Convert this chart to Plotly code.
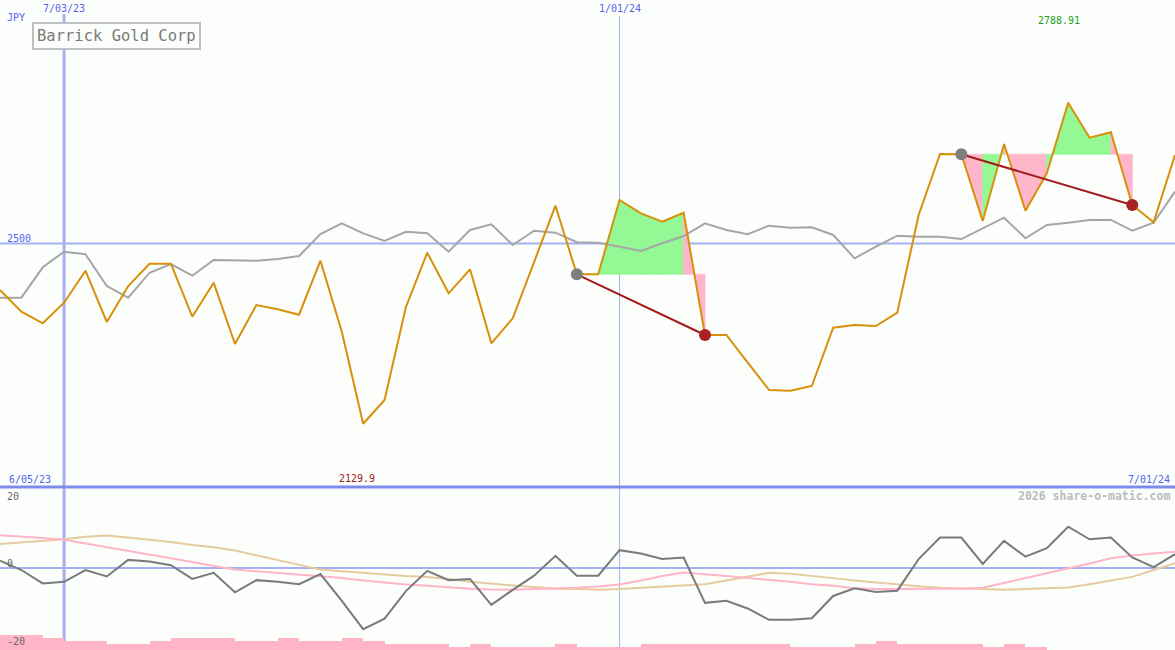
import pandas as pd
import plotly.graph_objects as go

# ---------------- data ----------------
dates = pd.date_range("2023-06-12", "2024-07-01", freq="7D")

price = [2404.5, 2360.0, 2336.1, 2378.4, 2444.1, 2338.8, 2412.7, 2458.5, 2458.5, 2349.7,
         2419.5, 2293.6, 2373.7, 2364.9, 2353.8, 2464.7, 2318.9, 2129.9, 2178.6, 2369.6,
         2481.1, 2397.7, 2447.0, 2295.1, 2346.4, 2462.0, 2577.6, 2436.8, 2436.8, 2589.3,
         2562.0, 2544.8, 2563.2, 2312.1, 2312.1, 2255.6, 2199.2, 2197.7, 2207.4, 2327.1,
         2332.6, 2330.6, 2357.9, 2558.5, 2683.8, 2683.2, 2546.2, 2704.3, 2567.4, 2644.1,
         2788.91, 2717.3, 2728.3, 2579.1, 2543.5, 2681.7]

index_line = [2388.7, 2388.7, 2451.1, 2483.2, 2477.8, 2412.7, 2388.7, 2440.0, 2457.9, 2433.9,
              2466.1, 2464.7, 2464.7, 2468.2, 2474.3, 2519.5, 2541.5, 2520.9, 2505.1, 2524.2,
              2520.9, 2483.2, 2527.7, 2539.4, 2496.9, 2526.3, 2522.2, 2502.5, 2501.6, 2493.4,
              2484.6, 2500.4, 2515.4, 2541.5, 2527.7, 2518.9, 2536.6, 2532.4, 2533.3, 2517.5,
              2469.6, 2493.4, 2516.0, 2514.0, 2514.0, 2509.2, 2531.2, 2553.0, 2510.7, 2538.0,
              2542.7, 2548.3, 2548.3, 2526.3, 2542.7, 2606.4]

osc_gray = [1.8, -0.5, -3.8, -3.4, -0.5, -2.1, 2.0, 1.6, 0.7, -2.7,
            -1.2, -6.0, -3.0, -3.4, -4.0, -1.5, -8.1, -15.1, -12.5, -5.7,
            -0.7, -3.0, -2.7, -9.1, -5.4, -1.9, 3.0, -1.9, -1.9, 4.4,
            3.6, 2.2, 2.6, -8.6, -8.1, -10.0, -12.8, -12.8, -12.4, -6.9,
            -5.0, -5.9, -5.6, 2.2, 7.5, 7.5, 1.0, 6.7, 2.8, 4.9,
            10.2, 7.1, 7.5, 2.6, 0.2, 3.4]

osc_pink = [8.1, 7.8, 7.4, 7.0, 6.1, 5.2, 4.2, 3.3, 2.4, 1.5,
            0.5, -0.4, -0.8, -1.2, -1.6, -2.0, -2.5, -3.1, -3.6, -4.1,
            -4.4, -4.8, -5.1, -5.3, -5.4, -5.2, -5.1, -4.9, -4.6, -4.1,
            -3.1, -2.0, -1.1, -1.5, -2.0, -2.5, -2.9, -3.4, -4.0, -4.4,
            -5.0, -5.2, -5.2, -5.1, -5.1, -5.1, -4.9, -3.7, -2.5, -1.4,
            -0.1, 1.1, 2.4, 3.1, 3.6, 4.0]

osc_tan = [5.9, 6.3, 6.7, 7.1, 7.7, 8.0, 7.5, 7.0, 6.4, 5.7,
           5.1, 4.3, 3.1, 1.9, 0.7, -0.4, -0.8, -1.2, -1.6, -2.0,
           -2.2, -2.7, -3.4, -3.9, -4.3, -4.7, -5.1, -5.2, -5.4, -5.2,
           -4.9, -4.7, -4.4, -4.0, -3.1, -2.1, -1.2, -1.4, -1.9, -2.5,
           -3.1, -3.6, -4.0, -4.5, -4.9, -5.1, -5.3, -5.4, -5.2, -5.0,
           -4.8, -4.0, -3.1, -2.2, -0.5, 1.2]

volume = [5, 5, 4, 3, 3, 2, 2, 3, 4, 4, 4, 3, 3, 4, 3, 3, 4, 3, 2, 2,
          2, 1, 2, 1, 1, 1, 2, 1, 1, 1, 2, 2, 2, 2, 2, 2, 2, 1, 1, 1,
          2, 3, 2, 2, 2, 2, 1, 2, 1, 0, 0, 0, 0, 0, 0]

trade_entry = [27, 45]
trade_exit = [33, 53]

title_text = "Barrick Gold Corp"
currency = "JPY"
top_date_labels = ["2023-07-03", "2024-01-01"]
top_date_text = ["7/03/23", "1/01/24"]
start_label = "6/05/23"
end_label = "7/01/24"
ref_level = 2500
osc_ticks = [20, 0, -20]

# ---------------- styling ----------------
BG = "#FCFEFC"
ORANGE = "#D8900A"
GRAY_IDX = "#A6A6A6"
GRAY_OSC = "#7A7A7A"
PINK = "#FFB4C8"
TAN = "#E6CC9C"
GREEN_FILL = "#94F894"
PINK_FILL = "#FFB6CA"
GRID = "#A4B0F2"
SEP = "#7D8CEA"
BLUE_TXT = "#5464EE"
FONT = "DejaVu Sans Mono"
W, H = 1175, 650
MAIN_BOTTOM = 487  # px

def py(px):
    return 1 - px / H

def pxx(px):
    return px / W

fig = go.Figure()

# trade fills
for e, x_ in zip(trade_entry, trade_exit):
    lvl = price[e]
    for j in range(e, x_):
        if price[j] == lvl and price[j + 1] == lvl:
            continue
        col = GREEN_FILL if price[j + 1] > lvl else PINK_FILL
        fig.add_trace(go.Scatter(
            x=[dates[j], dates[j], dates[j + 1], dates[j + 1], dates[j]],
            y=[lvl, price[j], price[j + 1], lvl, lvl],
            fill="toself", fillcolor=col, mode="lines", line=dict(width=0.8, color=col),
            hoverinfo="skip", showlegend=False))

fig.add_trace(go.Scatter(x=dates, y=index_line, mode="lines",
                         line=dict(color=GRAY_IDX, width=2), showlegend=False))
fig.add_trace(go.Scatter(x=dates, y=price, mode="lines",
                         line=dict(color=ORANGE, width=2), showlegend=False))

for e, x_ in zip(trade_entry, trade_exit):
    fig.add_trace(go.Scatter(x=[dates[e], dates[x_]], y=[price[e], price[x_]],
                             mode="lines", line=dict(color="#A21C1C", width=2),
                             showlegend=False))
    fig.add_trace(go.Scatter(x=[dates[e]], y=[price[e]], mode="markers",
                             marker=dict(color="#7E7E7E", size=12), showlegend=False))
    fig.add_trace(go.Scatter(x=[dates[x_]], y=[price[x_]], mode="markers",
                             marker=dict(color="#A82222", size=12), showlegend=False))

# lower panel
fig.add_trace(go.Bar(x=dates[:len(volume)], y=volume, yaxis="y3",
                     offset=0, width=7 * 86400000, marker=dict(color=PINK, line=dict(width=0)),
                     showlegend=False))
fig.add_trace(go.Scatter(x=dates, y=osc_tan, yaxis="y2", mode="lines",
                         line=dict(color=TAN, width=2), showlegend=False))
fig.add_trace(go.Scatter(x=dates, y=osc_pink, yaxis="y2", mode="lines",
                         line=dict(color=PINK, width=2), showlegend=False))
fig.add_trace(go.Scatter(x=dates, y=osc_gray, yaxis="y2", mode="lines",
                         line=dict(color=GRAY_OSC, width=2), showlegend=False))

split = 1 - MAIN_BOTTOM / H
shapes = [
    dict(type="line", xref="paper", yref="y", x0=0, x1=1, y0=ref_level, y1=ref_level,
         line=dict(color=GRID, width=2), layer="below"),
    dict(type="line", xref="paper", yref="y2", x0=0, x1=1, y0=0, y1=0,
         line=dict(color=GRID, width=2), layer="below"),
    dict(type="line", xref="x", yref="paper", x0=top_date_labels[0], x1=top_date_labels[0],
         y0=0, y1=py(14), line=dict(color=GRID, width=3), layer="below"),
    dict(type="line", xref="x", yref="paper", x0=top_date_labels[1], x1=top_date_labels[1],
         y0=0, y1=py(16), line=dict(color=GRID, width=1), layer="below"),
    dict(type="line", xref="paper", yref="paper", x0=0, x1=1, y0=split, y1=split,
         line=dict(color=SEP, width=3), layer="above"),
]

ann = []
def a(text, x, y, xref="paper", yref="paper", xanchor="left", color=BLUE_TXT, size=10,
      xshift=0, bold=False):
    ann.append(dict(text=("<b>%s</b>" % text) if bold else text, x=x, y=y, xref=xref,
                    yref=yref, xanchor=xanchor, yanchor="middle", showarrow=False,
                    xshift=xshift, font=dict(family=FONT, size=size, color=color)))

a(currency, pxx(5), py(17))
for d, t in zip(top_date_labels, top_date_text):
    a(t, d, py(9), xref="x", xanchor="center")
imax = price.index(max(price))
imin = price.index(min(price))
a("%.2f" % price[imax], dates[imax], py(21), xref="x", xanchor="center", color="#22A022", xshift=-9)
a("%.1f" % price[imin], dates[imin], py(478), xref="x", xanchor="center", color="#A02020", xshift=-6)
a(str(ref_level), pxx(5), py(238))
a(start_label, pxx(7), py(479))
a(end_label, pxx(1172), py(479), xanchor="right")
for v, ypx in zip(osc_ticks, [496, 563, 641]):
    a(str(v), pxx(5), py(ypx), color="#666666")
a("2026 share-o-matic.com", pxx(1172), py(496), xanchor="right", color="#BBBBBB", size=11.5, bold=True)
ann.append(dict(text=title_text, x=pxx(32), y=py(36.5), xref="paper", yref="paper",
                xanchor="left", yanchor="middle", showarrow=False,
                bordercolor="#C0C0C0", borderwidth=2, borderpad=3, bgcolor=BG,
                font=dict(family=FONT, size=15.5, color="#7A7A7A")))

fig.update_layout(
    width=W, height=H, margin=dict(l=0, r=0, t=0, b=0),
    paper_bgcolor=BG, plot_bgcolor=BG, showlegend=False, bargap=0,
    xaxis=dict(type="date", range=["2023-06-12", "2024-07-01"], visible=False, fixedrange=True),
    yaxis=dict(domain=[split, 1], range=[2000, 3000], visible=False),
    yaxis2=dict(domain=[0, split], range=[-20.25, 20], visible=False, anchor="x"),
    yaxis3=dict(overlaying="y2", range=[0, (H - MAIN_BOTTOM) / 3], visible=False),
    shapes=shapes, annotations=ann,
)

fig.write_html("out.html", config={"displayModeBar": False},
               post_script="document.body.style.margin='0';document.body.style.overflow='hidden';")
